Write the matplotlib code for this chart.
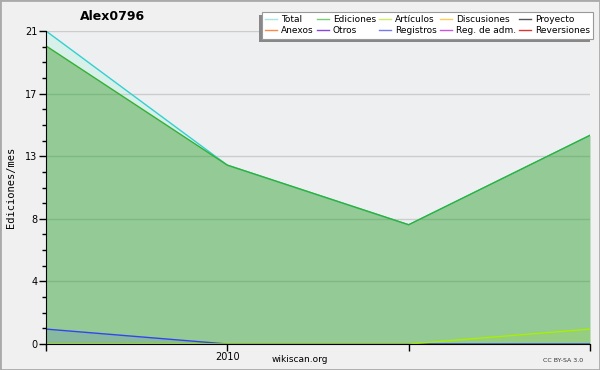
import numpy as np
from matplotlib import pyplot as plt
from matplotlib.lines import Line2D
from matplotlib.patches import Rectangle

# monthly points, only the 2nd one carries a year label
x_labels = ["", "2010", "", ""]
total = [21, 12, 8, 14]
ediciones = [20, 12, 8, 14]
registros = [1, 0, 0, 0]
articulos = [0, 0, 0, 1]

legend_names = ["Total", "Ediciones", "Artículos", "Discusiones", "Proyecto",
                "Anexos", "Otros", "Registros", "Reg. de adm.", "Reversiones"]
legend_colors = ["#a8e4e0", "#77cc77", "#ccee66", "#ffcc55", "#555555",
                 "#ff8844", "#8844dd", "#7777ee", "#cc55dd", "#dd3333"]

ymax = 21
y_major = [0, 4.2, 8.4, 12.6, 16.8, 21]
y_major_labels = ["0", "4", "8", "13", "17", "21"]

fig = plt.figure(figsize=(6, 3.7), dpi=100, facecolor="#f0f0f0")
fig.patches.append(Rectangle((0, 0), 1, 1, transform=fig.transFigure, fill=False,
                             edgecolor="#aaaaaa", linewidth=2))
ax = fig.add_axes([46 / 600, 1 - 344 / 370, 544 / 600, 313 / 370])
ax.set_facecolor("#eeeff1")

x = np.arange(len(total))
ax.fill_between(x, ediciones, total, color="#80f5ce", alpha=0.2, linewidth=0)
ax.plot(x, total, color="#33d0d0", linewidth=1)
ax.fill_between(x, ediciones, color="#249f29", alpha=0.45, linewidth=0)
ax.plot(x, ediciones, color="#33b033", linewidth=1)
ax.fill_between(x, registros, color="#3344ee", alpha=0.12, linewidth=0)
ax.plot(x, registros, color="#3344ee", linewidth=1)
ax.fill_between(x, articulos, color="#aaee00", alpha=0.12, linewidth=0)
ax.plot(x, articulos, color="#aaee00", linewidth=1)

ax.set_xlim(0, len(total) - 1)
ax.set_ylim(0, ymax)
ax.set_xticks(x)
ax.set_xticklabels(x_labels, fontsize=7)
ax.set_yticks(y_major)
ax.set_yticklabels(y_major_labels, fontsize=7)
ax.set_yticks(np.arange(0, ymax, 1.05), minor=True)
ax.tick_params(axis="both", which="major", length=5, width=1, pad=1)
ax.tick_params(axis="y", which="minor", length=3, width=1)
ax.grid(axis="y", which="major", color="#cccccc", linewidth=1)
ax.set_axisbelow(True)
for s in ["top", "right"]:
    ax.spines[s].set_visible(False)
for s in ["left", "bottom"]:
    ax.spines[s].set_zorder(5)

ax.set_ylabel("Ediciones/mes", fontsize=7.5, family="DejaVu Sans Mono", labelpad=7)
fig.text(112 / 600, 1 - 17 / 370, "Alex0796", fontsize=9, fontweight="bold",
         ha="center", va="center")
fig.text(300 / 600, 1 - 360 / 370, "wikiscan.org", fontsize=6.5, ha="center", va="center")
fig.text(563 / 600, 1 - 360 / 370, "CC BY-SA 3.0", fontsize=4.5, ha="center",
         va="center", color="#333333")

# legend is filled column by column, so interleave the two rows
order = [0, 5, 1, 6, 2, 7, 3, 8, 4, 9]
handles = [Line2D([], [], color=legend_colors[i], linewidth=1) for i in order]
labels = [legend_names[i] for i in order]
leg = fig.legend(handles, labels, ncol=5, fontsize=6.5, loc="upper right",
                 bbox_to_anchor=(593 / 600, 1 - 12 / 370), frameon=True, fancybox=False,
                 handlelength=1.35, handletextpad=0.45, columnspacing=0.3,
                 labelspacing=0.25, borderpad=0.35, borderaxespad=0, framealpha=1)
leg.get_frame().set_edgecolor("#999999")
leg.get_frame().set_linewidth(0.8)
leg.get_frame().set_facecolor("white")

# shadow down-left of the legend box
fig.canvas.draw()
bb = leg.get_window_extent().transformed(fig.transFigure.inverted())
fig.patches.append(Rectangle((bb.x0 - 3 / 600, bb.y0 - 3 / 370), bb.width, bb.height,
                             transform=fig.transFigure, facecolor="#888888",
                             edgecolor="none", zorder=0))

fig.savefig("out.png", dpi=100, facecolor=fig.get_facecolor())
